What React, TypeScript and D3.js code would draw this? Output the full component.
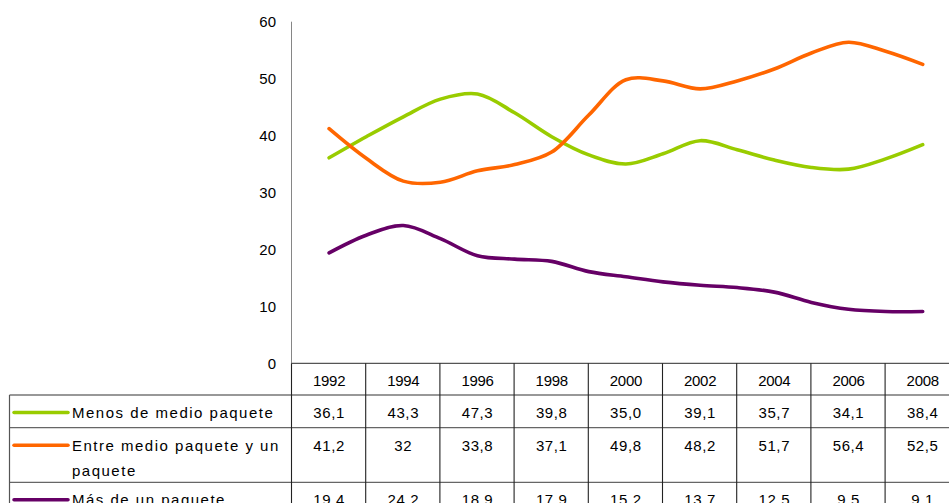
import React from 'react';
import * as d3 from 'd3';

const years = [1992, 1993, 1994, 1995, 1996, 1997, 1998, 1999, 2000, 2001, 2002, 2003, 2004, 2005, 2006, 2007, 2008];
const menos = [36.1, 39.8, 43.3, 46.4, 47.3, 44.0, 39.8, 36.6, 35.0, 36.8, 39.1, 37.5, 35.7, 34.4, 34.1, 35.9, 38.4];
const entre = [41.2, 36.0, 32.0, 31.8, 33.8, 34.9, 37.1, 43.6, 49.8, 49.6, 48.2, 49.6, 51.7, 54.5, 56.4, 54.8, 52.5];
const mas = [19.4, 22.5, 24.2, 21.9, 18.9, 18.3, 17.9, 16.1, 15.2, 14.3, 13.7, 13.3, 12.5, 10.7, 9.5, 9.1, 9.1];

const tableYears = ['1992', '1994', '1996', '1998', '2000', '2002', '2004', '2006', '2008'];
const tableMenos = ['36,1', '43,3', '47,3', '39,8', '35,0', '39,1', '35,7', '34,1', '38,4'];
const tableEntre = ['41,2', '32', '33,8', '37,1', '49,8', '48,2', '51,7', '56,4', '52,5'];
const tableMas = ['19,4', '24,2', '18,9', '17,9', '15,2', '13,7', '12,5', '9,5', '9,1'];
const yTicks = [0, 10, 20, 30, 40, 50, 60];

const seriesNames = [['Menos de medio paquete'], ['Entre medio paquete y un', 'paquete'], ['Más de un paquete']];
const seriesColors = ['#99CC00', '#FF6600', '#660066'];

export default function App() {
  const W = 949, H = 503;
  const tableLeft = 292;
  const colW = 74.2;
  const font = '"Liberation Sans", Arial, sans-serif';

  const band = d3.scaleBand<string>().domain(tableYears).range([tableLeft, tableLeft + colW * tableYears.length]);
  const x = d3.scaleLinear().domain([1992, 2008]).range([
    (band('1992') as number) + band.bandwidth() / 2,
    (band('2008') as number) + band.bandwidth() / 2,
  ]);
  const y = d3.scaleLinear().domain([0, 60]).range([363.3, 21.7]);

  const line = d3.line<number>()
    .x((_, i) => x(years[i]))
    .y((d) => y(d))
    .curve(d3.curveCatmullRom.alpha(0.5));

  const series = [menos, entre, mas];
  const tableRows = [tableMenos, tableEntre, tableMas];

  const headerTop = 363.3, headerBottom = 395;
  const rowBounds = [395, 427.7, 482.3, 540];
  const tableLeftEdge = 9.5;

  return (
    <svg width={W} height={H} style={{ position: 'absolute', left: 0, top: 0, background: '#fff' }} fontFamily={font}>
      {/* y axis labels */}
      {yTicks.map((t) => (
        <text key={t} x={276} y={y(t)} dy="0.36em" textAnchor="end" fontSize={15} fill="#000">{t}</text>
      ))}
      {/* y axis line */}
      <line x1={291.5} x2={291.5} y1={y(60)} y2={headerTop} stroke="#868686" strokeWidth={1} />

      {/* lines */}
      {series.map((s, i) => (
        <path key={i} d={line(s) as string} fill="none" stroke={seriesColors[i]} strokeWidth={3.6} strokeLinejoin="round" strokeLinecap="round" />
      ))}

      {/* table horizontal lines */}
      <line x1={tableLeft - 0.5} x2={W} y1={headerTop} y2={headerTop} stroke="#555" strokeWidth={1.2} />
      {rowBounds.slice(0, 3).map((yy, i) => (
        <line key={i} x1={tableLeftEdge} x2={W} y1={yy} y2={yy} stroke={i === 0 ? '#333' : '#666'} strokeWidth={1.2} />
      ))}
      {/* left border */}
      <line x1={tableLeftEdge} x2={tableLeftEdge} y1={headerBottom} y2={H} stroke="#555" strokeWidth={1.2} />
      {/* column lines */}
      {d3.range(tableYears.length + 1).map((i) => (
        <line key={i} x1={tableLeft + i * colW - 0.5} x2={tableLeft + i * colW - 0.5} y1={headerTop} y2={H} stroke="#222" strokeWidth={1.1} />
      ))}

      {/* header years */}
      {tableYears.map((yr) => (
        <text key={yr} x={(band(yr) as number) + band.bandwidth() / 2} y={(headerTop + headerBottom) / 2 + 1} dy="0.36em" textAnchor="middle" fontSize={15} letterSpacing={-0.3} fill="#000">{yr}</text>
      ))}

      {/* rows */}
      {tableRows.map((row, r) => {
        const top = rowBounds[r];
        const firstLineY = top + 17.5;
        return (
          <g key={r}>
            <line x1={14} x2={68} y1={firstLineY} y2={firstLineY} stroke={seriesColors[r]} strokeWidth={3.5} strokeLinecap="round" />
            {seriesNames[r].map((ln, k) => (
              <text key={k} x={72} y={firstLineY + k * 25} dy="0.36em" fontSize={15} letterSpacing={1.5} fill="#000">{ln}</text>
            ))}
            {row.map((v, c) => (
              <text key={c} x={(band(tableYears[c]) as number) + band.bandwidth() / 2} y={firstLineY} dy="0.36em" textAnchor="middle" fontSize={15} letterSpacing={0.6} fill="#000">{v}</text>
            ))}
          </g>
        );
      })}
    </svg>
  );
}
